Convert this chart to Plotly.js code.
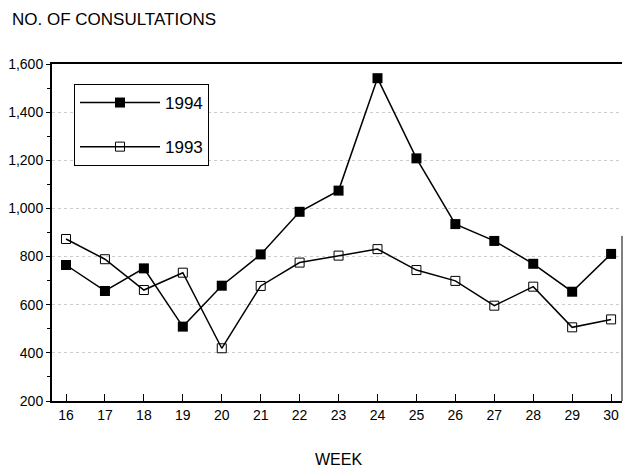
<!DOCTYPE html>
<html>
<head>
<meta charset="utf-8">
<script src="https://cdn.plot.ly/plotly-3.0.1.min.js"></script>
<style>html,body{margin:0;padding:0;background:#fff;}#chart{width:624px;height:471px;}</style>
</head>
<body>
<div id="chart"></div>
<script>
const weeks = [16,17,18,19,20,21,22,23,24,25,26,27,28,29,30];
const consult1994 = [765,657,751,509,679,809,986,1074,1541,1208,935,865,770,654,811];
const consult1993 = [873,789,661,733,419,678,775,804,831,744,699,596,675,506,539];
const yTickVals = [200,400,600,800,1000,1200,1400,1600];
const yTickText = ['200','400','600','800','1,000','1,200','1,400','1,600'];

const FONT = 'Liberation Sans, Arial, Helvetica, sans-serif';

const traces = [
  {
    x: weeks, y: consult1994, name: '1994', type: 'scatter', mode: 'lines+markers',
    legendgroup: 'a',
    line: {color: '#000', width: 1.5},
    marker: {symbol: 'square', size: 10, color: '#000'}
  },
  {
    x: weeks, y: consult1993, name: '1993', type: 'scatter', mode: 'lines+markers',
    legendgroup: 'b',
    line: {color: '#000', width: 1.5},
    marker: {symbol: 'square-open', size: 9, color: '#000', line: {color: '#000', width: 1}}
  }
];

const layout = {
  width: 624, height: 471,
  margin: {l: 52, r: 2, t: 64, b: 70},
  paper_bgcolor: '#fff', plot_bgcolor: '#fff',
  font: {family: FONT, color: '#000', size: 14},
  showlegend: true,
  legend: {
    x: 0.0386, y: 0.9407, xanchor: 'left', yanchor: 'top',
    bordercolor: '#000', borderwidth: 1, bgcolor: '#fff',
    font: {family: FONT, size: 17, color: '#000'},
    traceorder: 'grouped', tracegroupgap: 19, itemwidth: 80
  },
  title: {
    text: 'NO. OF CONSULTATIONS',
    font: {family: FONT, size: 17, color: '#000'},
    xref: 'container', yref: 'container',
    x: 12/624, xanchor: 'left', y: 1 - 19/471, yanchor: 'middle'
  },
  xaxis: {
    range: [15.64, 30.28],
    tickvals: weeks, ticktext: weeks.map(String),
    ticks: 'inside', ticklen: 7, tickwidth: 1, tickcolor: '#000',
    showline: true, linecolor: '#000', linewidth: 2, mirror: true,
    showgrid: false, zeroline: false,
    tickfont: {family: FONT, size: 14, color: '#000'}
  },
  yaxis: {
    range: [200, 1600],
    tickvals: yTickVals, ticktext: yTickText,
    ticks: 'outside', ticklen: 4, tickwidth: 1, tickcolor: '#000',
    minor: {dtick: 100, ticks: 'outside', ticklen: 3, tickcolor: '#000', showgrid: false},
    showline: true, linecolor: '#000', linewidth: 2,
    showgrid: true, gridcolor: '#cccccc', gridwidth: 1, griddash: 'dot',
    zeroline: false,
    tickfont: {family: FONT, size: 14, color: '#000'}
  },
  shapes: [
    {type: 'line', xref: 'paper', yref: 'paper', x0: 1, x1: 1, y0: 0, y1: 0.49, line: {color: '#000', width: 1}}
  ],
  annotations: [
    {text: 'WEEK', xref: 'paper', yref: 'paper', x: 0.502, y: -0.175, xanchor: 'center', yanchor: 'middle',
     showarrow: false, font: {family: FONT, size: 16, color: '#000'}}
  ]
};

Plotly.newPlot('chart', traces, layout, {displayModeBar: false, staticPlot: true});
</script>
</body>
</html>
